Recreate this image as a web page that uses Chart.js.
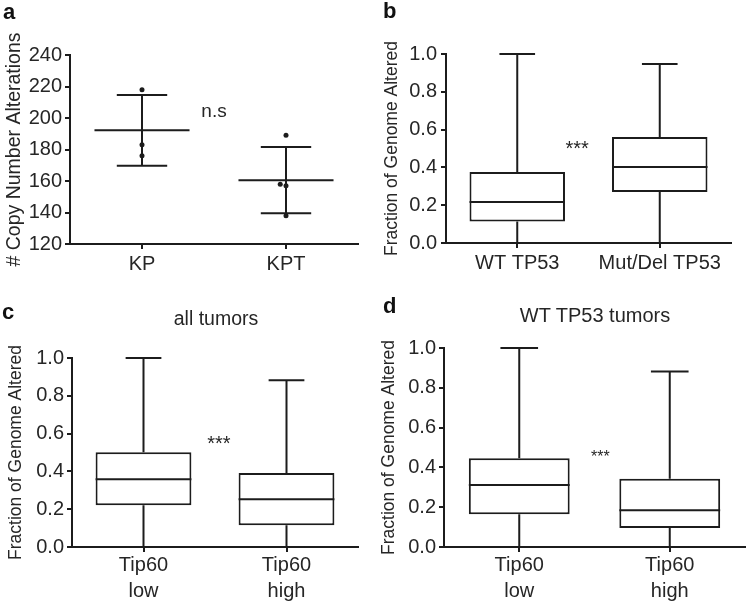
<!DOCTYPE html>
<html lang="en">
<head>
<meta charset="UTF-8">
<title>Copy number alterations and fraction of genome altered</title>
<script src="https://cdn.jsdelivr.net/npm/chart.js"></script>
<style>
  body { margin: 0; background: #fff; width: 747px; height: 603px; position: relative; overflow: hidden;
         font-family: "Liberation Sans", Arial, sans-serif; color: #262626; }
  canvas { position: absolute; }
  .letter { position: absolute; font-weight: bold; font-size: 22px; line-height: 1; color: #111; }
  .title { position: absolute; font-size: 19.5px; line-height: 1; transform: translate(-50%, -50%); white-space: nowrap; }
</style>
</head>
<body>
<canvas id="chartA" width="373" height="290" style="left:0;top:0"></canvas>
<canvas id="chartB" width="374" height="290" style="left:373px;top:0"></canvas>
<canvas id="chartC" width="373" height="313" style="left:0;top:290px"></canvas>
<canvas id="chartD" width="374" height="313" style="left:373px;top:290px"></canvas>

<div class="letter" style="left:3px;top:1px">a</div>
<div class="letter" style="left:383px;top:0px">b</div>
<div class="letter" style="left:2px;top:301px">c</div>
<div class="letter" style="left:383px;top:295px">d</div>
<div class="title" style="left:216px;top:319px">all tumors</div>
<div class="title" style="left:595px;top:315px;font-size:20px">WT TP53 tumors</div>

<script>
// panel a: copy number alterations per mouse, mean ± SD
const aLabels = ['KP', 'KPT'];
const kpValues = [218, 183, 176];
const kpJitter = [0, 0, 0];
const kptValues = [189, 158, 157, 138];
const kptJitter = [0, -0.04, 0, 0];
const aMean = [192.3, 160.5];
const aSdLow = [169.7, 139.5];
const aSdHigh = [214.6, 181.6];

// panel b: TP53 status
const bLabels = ['WT TP53', 'Mut/Del TP53'];
const bMin = [0, 0];
const bQ1 = [0.114, 0.270];
const bMedian = [0.217, 0.402];
const bQ3 = [0.376, 0.561];
const bMax = [1.0, 0.947];

// panel c: all tumors by Tip60
const cLabels = [['Tip60', 'low'], ['Tip60', 'high']];
const cMin = [0, 0];
const cQ1 = [0.221, 0.115];
const cMedian = [0.359, 0.252];
const cQ3 = [0.501, 0.391];
const cMax = [1.0, 0.882];

// panel d: WT TP53 tumors by Tip60
const dLabels = [['Tip60', 'low'], ['Tip60', 'high']];
const dMin = [0, 0];
const dQ1 = [0.165, 0.096];
const dMedian = [0.311, 0.185];
const dQ3 = [0.446, 0.343];
const dMax = [1.0, 0.882];

const INK = '#1c1c1c';
const TEXT = '#262626';
Chart.defaults.font.family = '"Liberation Sans", Arial, sans-serif';
Chart.defaults.color = TEXT;
Chart.defaults.animation = false;

// draws a text mark (n.s / ***) centred on a data position
function notePlugin(note) {
  return {
    id: 'note',
    afterDraw(chart) {
      const { ctx, scales: { x, y } } = chart;
      ctx.save();
      ctx.font = note.size + 'px "Liberation Sans", Arial, sans-serif';
      ctx.fillStyle = TEXT;
      ctx.textAlign = 'center';
      ctx.textBaseline = 'alphabetic';
      const m = ctx.measureText(note.text);
      const cy = y.getPixelForValue(note.y);
      ctx.fillText(note.text, x.getPixelForValue(note.x), cy + (m.actualBoundingBoxAscent - m.actualBoundingBoxDescent) / 2);
      ctx.restore();
    }
  };
}

// whiskers, caps and median line for the floating-bar boxes
function boxPlugin(st) {
  return {
    id: 'whiskers',
    beforeDatasetsDraw(chart) {
      const { ctx, scales: { x, y } } = chart;
      const capHalf = (x.getPixelForValue(1) - x.getPixelForValue(0)) * 0.125;
      ctx.save();
      ctx.strokeStyle = INK;
      ctx.lineWidth = 2;
      st.min.forEach((_, i) => {
        const cx = x.getPixelForValue(i);
        ctx.beginPath();
        ctx.moveTo(cx, y.getPixelForValue(st.max[i]));
        ctx.lineTo(cx, y.getPixelForValue(st.q3[i]));
        ctx.moveTo(cx, y.getPixelForValue(st.q1[i]));
        ctx.lineTo(cx, y.getPixelForValue(st.min[i]));
        [st.max[i], st.min[i]].forEach(v => {
          const py = y.getPixelForValue(v);
          ctx.moveTo(cx - capHalf, py);
          ctx.lineTo(cx + capHalf, py);
        });
        ctx.stroke();
      });
      ctx.restore();
    },
    afterDatasetsDraw(chart) {
      const { ctx, scales: { y } } = chart;
      ctx.save();
      ctx.strokeStyle = INK;
      ctx.lineWidth = 2;
      chart.getDatasetMeta(0).data.forEach((bar, i) => {
        const py = y.getPixelForValue(st.median[i]);
        ctx.beginPath();
        ctx.moveTo(bar.x - bar.width / 2, py);
        ctx.lineTo(bar.x + bar.width / 2, py);
        ctx.stroke();
      });
      ctx.restore();
    }
  };
}

// mean and SD bars for panel a
const meanSdPlugin = {
  id: 'meanSd',
  beforeDatasetsDraw(chart) {
    const { ctx, scales: { x, y } } = chart;
    const unit = x.getPixelForValue(1) - x.getPixelForValue(0);
    ctx.save();
    ctx.strokeStyle = INK;
    ctx.lineWidth = 2;
    aMean.forEach((m, i) => {
      const cx = x.getPixelForValue(i);
      const lo = y.getPixelForValue(aSdLow[i]);
      const hi = y.getPixelForValue(aSdHigh[i]);
      const my = y.getPixelForValue(m);
      ctx.beginPath();
      ctx.moveTo(cx, lo); ctx.lineTo(cx, hi);
      ctx.moveTo(cx - unit * 0.175, lo); ctx.lineTo(cx + unit * 0.175, lo);
      ctx.moveTo(cx - unit * 0.175, hi); ctx.lineTo(cx + unit * 0.175, hi);
      ctx.moveTo(cx - unit * 0.33, my); ctx.lineTo(cx + unit * 0.33, my);
      ctx.stroke();
    });
    ctx.restore();
  }
};

function yAxis(opt) {
  return {
    min: opt.min, max: opt.max,
    afterFit: s => { s.width = opt.width; },
    ticks: { stepSize: opt.step, padding: opt.tickPad, font: { size: 20 }, color: TEXT,
             callback: opt.fmt },
    grid: { drawOnChartArea: false, drawTicks: true, tickLength: 5, lineWidth: 2, color: INK },
    border: { color: INK, width: 2 },
    title: { display: true, text: opt.title, color: TEXT, font: { size: opt.titleSize },
             padding: { top: opt.titlePad, bottom: 0 } }
  };
}

function xGrid() {
  return { drawOnChartArea: false, drawTicks: true, tickLength: 5, lineWidth: 2, color: INK, offset: false };
}

// panel a
new Chart(document.getElementById('chartA'), {
  type: 'scatter',
  data: {
    datasets: [{
      data: kpValues.map((v, i) => ({ x: 0 + kpJitter[i], y: v }))
        .concat(kptValues.map((v, i) => ({ x: 1 + kptJitter[i], y: v }))),
      pointRadius: 2.5, pointBackgroundColor: INK, pointBorderWidth: 0
    }]
  },
  options: {
    responsive: false,
    layout: { padding: { top: 55, right: 15, left: 0, bottom: 0 } },
    plugins: { legend: { display: false }, tooltip: { enabled: false } },
    scales: {
      x: {
        type: 'linear', min: -0.5, max: 1.5,
        afterBuildTicks: s => { s.ticks = [{ value: 0 }, { value: 1 }]; },
        afterFit: s => { s.height = 46; },
        ticks: { padding: 3, font: { size: 20 }, color: TEXT, callback: v => aLabels[v] },
        grid: xGrid(),
        border: { color: INK, width: 2 }
      },
      y: yAxis({ min: 120, max: 240, step: 20, width: 70, tickPad: 3, fmt: v => v,
                 title: '# Copy Number Alterations', titleSize: 19.5, titlePad: 3 })
    }
  },
  plugins: [meanSdPlugin, notePlugin({ text: 'n.s', x: 0.5, y: 203.8, size: 19 })]
});

function boxChart(id, labels, st, geo, note) {
  return new Chart(document.getElementById(id), {
    type: 'bar',
    data: {
      labels: labels,
      datasets: [{
        data: st.q1.map((q, i) => [q, st.q3[i]]),
        backgroundColor: '#fff', borderColor: INK, borderWidth: 2, borderSkipped: false,
        barPercentage: 0.67, categoryPercentage: 1
      }]
    },
    options: {
      responsive: false,
      layout: { padding: { top: geo.top, right: geo.right, left: 0, bottom: 0 } },
      plugins: { legend: { display: false }, tooltip: { enabled: false } },
      scales: {
        x: {
          afterFit: s => { s.height = geo.bottom; },
          ticks: { padding: geo.xPad, font: { size: 20, lineHeight: 1.28 }, color: TEXT },
          grid: xGrid(),
          border: { color: INK, width: 2 }
        },
        y: yAxis({ min: 0, max: 1, step: 0.2, width: geo.left, tickPad: geo.tickPad, fmt: v => v.toFixed(1),
                   title: 'Fraction of Genome Altered', titleSize: 17.5, titlePad: geo.titlePad })
      }
    },
    plugins: [boxPlugin(st), notePlugin(note)]
  });
}

boxChart('chartB', bLabels, { min: bMin, q1: bQ1, median: bMedian, q3: bQ3, max: bMax },
  { top: 54, right: 16, left: 73, bottom: 47, tickPad: 4, titlePad: 9, xPad: 3 },
  { text: '***', x: 0.42, y: 0.52, size: 20 });
boxChart('chartC', cLabels, { min: cMin, q1: cQ1, median: cMedian, q3: cQ3, max: cMax },
  { top: 68, right: 15, left: 72, bottom: 56, tickPad: 3, titlePad: 5.5, xPad: 1 },
  { text: '***', x: 0.527, y: 0.567, size: 20 });
boxChart('chartD', dLabels, { min: dMin, q1: dQ1, median: dMedian, q3: dQ3, max: dMax },
  { top: 58, right: 2, left: 71, bottom: 56, tickPad: 3, titlePad: 5.5, xPad: 1 },
  { text: '***', x: 0.539, y: 0.471, size: 16 });
</script>
</body>
</html>
